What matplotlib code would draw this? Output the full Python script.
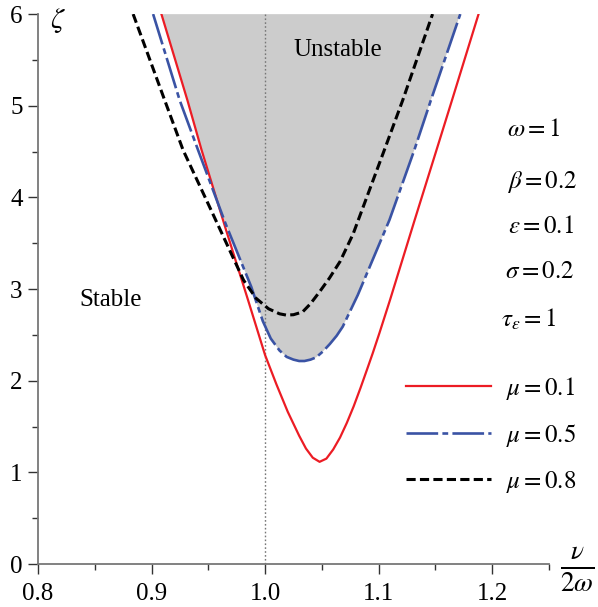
import matplotlib
matplotlib.use("Agg")
import matplotlib.pyplot as plt
from matplotlib.patches import Polygon

plt.rcParams['font.family'] = ['Liberation Serif', 'DejaVu Serif']
plt.rcParams['mathtext.fontset'] = 'stix'

# nu/(2 omega) and zeta along each stability boundary
x_mu01 = [0.9087, 0.9316, 0.944, 0.965, 0.985, 1.0, 1.01, 1.02, 1.03, 1.036, 1.042, 1.048,
          1.054, 1.060, 1.066, 1.072, 1.078, 1.084, 1.090, 1.0948, 1.1007, 1.110, 1.1314,
          1.1528, 1.1646, 1.188]
y_mu01 = [6.0, 5.06, 4.52, 3.67, 2.88, 2.28, 1.96, 1.66, 1.40, 1.26, 1.16, 1.115,
          1.15, 1.25, 1.38, 1.54, 1.72, 1.92, 2.13, 2.30, 2.52, 2.88, 3.74,
          4.59, 5.06, 6.0]

x_mu05 = [0.9014, 0.9248, 0.941, 0.965, 0.9878, 0.998, 1.005, 1.0127, 1.019, 1.025,
          1.030, 1.0347, 1.040, 1.045, 1.051, 1.057, 1.063, 1.0684, 1.0816, 1.09,
          1.1095, 1.1314, 1.146, 1.1719]
y_mu05 = [6.0, 5.06, 4.516, 3.72, 3.025, 2.65, 2.46, 2.33, 2.26, 2.23,
          2.215, 2.215, 2.23, 2.255, 2.32, 2.40, 2.49, 2.59, 2.934, 3.18,
          3.753, 4.516, 5.06, 6.0]

x_mu08 = [0.8838, 0.9116, 0.9278, 0.951, 0.981, 0.992, 1.003, 1.0127, 1.0186, 1.025,
          1.033, 1.040, 1.048, 1.0567, 1.066, 1.0775, 1.0895, 1.105, 1.1212, 1.1475]
y_mu08 = [6.0, 5.06, 4.516, 3.90, 3.098, 2.90, 2.785, 2.73, 2.716, 2.72,
          2.75, 2.84, 2.97, 3.12, 3.30, 3.60, 4.0, 4.516, 5.06, 6.0]

params = [r'$\omega=1$', r'$\beta=0.2$', r'$\varepsilon=0.1$',
          r'$\sigma=0.2$', r'$\tau_{\varepsilon}=1$']
params_x = [1.2369, 1.2440, 1.2431, 1.2422, 1.2317]
params_y = [4.73, 4.17, 3.68, 3.19, 2.67]

fig = plt.figure(figsize=(5.98, 6.07), dpi=100)
ax = fig.add_axes([0.0635, 0.0708, 0.8545, 0.906])

# unstable region = above both the mu=0.5 and mu=0.1 curves
shade = Polygon(list(zip(x_mu05, y_mu05)), closed=True, facecolor='#cccccc',
                edgecolor='none', zorder=0)
clip = Polygon(list(zip(x_mu01, y_mu01)), closed=True, transform=ax.transData)
ax.add_patch(shade)
shade.set_clip_path(clip)

ax.axvline(1.0, ymin=0, ymax=1, color='#777777', lw=1.0, ls=(0, (1.2, 1.6)), zorder=1)

ax.plot(x_mu01, y_mu01, color='#ec1c24', lw=1.6, label=r'$\mu=0.1$', zorder=3)
ax.plot(x_mu05, y_mu05, color='#3a53a4', lw=1.9, dashes=(12, 1.6, 2.2, 1.6),
        label=r'$\mu=0.5$', zorder=3)
ax.plot(x_mu08, y_mu08, color='black', lw=2.2, dashes=(3, 1.4),
        label=r'$\mu=0.8$', zorder=4)

ax.set_xlim(0.8, 1.25)
ax.set_ylim(0, 6)
ax.set_xticks([0.8, 0.9, 1.0, 1.1, 1.2])
ax.set_xticklabels(['0.8', '0.9', '1.0', '1.1', '1.2'])
ax.set_xticks([0.85, 0.95, 1.05, 1.15, 1.25], minor=True)
ax.set_yticks(range(7))
ax.set_yticks([0.5, 1.5, 2.5, 3.5, 4.5, 5.5], minor=True)
for s in ['top', 'right']:
    ax.spines[s].set_visible(False)
for s in ['left', 'bottom']:
    ax.spines[s].set_color('#777777')
    ax.spines[s].set_linewidth(1.3)
ax.tick_params(which='major', length=7, width=1.0, color='#333333', labelsize=18)
ax.tick_params(which='minor', length=4, width=1.0, color='#333333')
ax.tick_params(axis='x', pad=7)
ax.tick_params(axis='y', pad=4)
ax.patch.set_visible(False)

ax.text(0.8105, 5.93, r'$\zeta$', fontsize=21, ha='left', va='center')
fig.text(0.965, 0.062, r'$\frac{\nu}{2\omega}$', fontsize=28, ha='center', va='center')

ax.text(1.0637, 5.61, 'Unstable', fontsize=18, ha='center', va='center')
ax.text(0.864, 2.88, 'Stable', fontsize=18, ha='center', va='center')

for t, x, y in zip(params, params_x, params_y):
    ax.text(x, y, t, fontsize=18, ha='center', va='center')

ax.legend(loc='upper left', bbox_to_anchor=(0.7, 0.362), frameon=False,
          fontsize=18, handlelength=3.4, labelspacing=0.8, handletextpad=0.6,
          borderaxespad=0)

fig.savefig('out.png', dpi=100)
